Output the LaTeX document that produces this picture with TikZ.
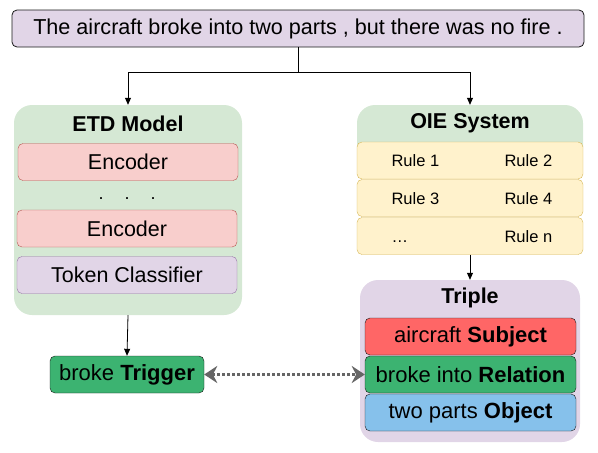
\documentclass[tikz,border=0pt]{standalone}
\usepackage{fontspec}
\setmainfont{Liberation Sans}
\usetikzlibrary{positioning,arrows.meta,calc}

\definecolor{purplefill}{HTML}{E1D5E7}
\definecolor{purpleline}{HTML}{9673A6}
\definecolor{greenfill}{HTML}{D5E8D4}
\definecolor{redfill}{HTML}{F8CECC}
\definecolor{redline}{HTML}{B85450}
\definecolor{yellowfill}{HTML}{FFF2CC}
\definecolor{yellowline}{HTML}{D6B656}
\definecolor{subjfill}{HTML}{FF6666}
\definecolor{relfill}{HTML}{3CB371}
\definecolor{objfill}{HTML}{86C1EB}
\definecolor{darkline}{HTML}{1A1A1A}
\definecolor{grayarrow}{HTML}{666666}

\tikzset{
  container/.style={fill=#1, rounded corners=18pt, inner sep=0pt},
  layer/.style={draw=redline, fill=redfill, rounded corners=5pt, minimum width=220pt, minimum height=37pt, inner sep=0pt, font=\fontsize{21.5}{23}\selectfont},
  rulebox/.style={draw=yellowline, fill=yellowfill, rounded corners=5pt, minimum width=226pt, minimum height=37pt, inner sep=0pt},
  rulelabel/.style={font=\fontsize{16.5}{18}\selectfont, anchor=base west},
  tripbox/.style={draw=darkline, fill=#1, rounded corners=5pt, minimum width=211pt, minimum height=37pt, inner sep=0pt, font=\fontsize{22}{24}\selectfont},
  title/.style={font=\fontsize{21.5}{23}\selectfont\bfseries},
  arr/.style={-{Triangle[length=7pt,width=6pt]}, thick},
}

\begin{document}
\begin{tikzpicture}[x=1pt, y=-1pt]
   \useasboundingbox (0,0) rectangle (598,453);

   % input sentence
   \node[draw=darkline, fill=purplefill, rounded corners=5pt, thick, minimum width=572pt, minimum height=37pt, inner sep=0pt,
         font=\fontsize{21.6}{23}\selectfont] (sent) at (298,28.5) {The aircraft broke into two parts , but there was no fire .};

   % ETD model
   \node[container=greenfill, minimum width=228pt, minimum height=210pt] (etd) at (128,210) {};
   \node[title] (etdtitle) at (128,124) {ETD Model};
   \node[layer] (enc1) at (128,162) {Encoder};
   \foreach \i in {-1,0,1}
       \node[font=\fontsize{18}{20}\selectfont, anchor=base] (dot\i) at (127+26*\i,199) {.};
   \node[layer] (enc2) at (127,228.5) {Encoder};
   \node[layer, draw=purpleline, fill=purplefill] (cls) at (127,275) {Token Classifier};

   % OIE system
   \node[container=greenfill, minimum width=226pt, minimum height=60pt] (oie) at (470,135) {};
   \node[title] (oietitle) at (470,123) {OIE System};
   \foreach \y/\a/\b/\id in {{160.5/Rule 1/Rule 2/r1}, {198/Rule 3/Rule 4/r2}, {236/\ldots/Rule n/r3}}{
       \node[rulebox] (\id) at (470,\y) {};
       \node[rulelabel] at (388,\y+6) {\a};
       \node[rulelabel] at (501,\y+6) {\b};
   }

   % triple
   \node[container=purplefill, minimum width=220pt, minimum height=162pt] (trip) at (470,361) {};
   \node[title] (triptitle) at (470,298) {Triple};
   \node[tripbox=subjfill] (subj) at (470.5,336.5) {aircraft \textbf{Subject}};
   \node[tripbox=relfill] (rel) at (470.5,374.5) {broke into \textbf{Relation}};
   \node[tripbox=objfill] (obj) at (470.5,412.5) {two parts \textbf{Object}};

   % trigger
   \node[tripbox=relfill, minimum width=154pt] (trig) at (127,374.5) {broke \textbf{Trigger}};

   % connectors
   \coordinate (split) at ($(sent.south)+(0,25)$);
   \draw[thick] (sent.south) -- (split);
   \draw[arr] (split) -| (etd.north);
   \draw[arr] (split) -| (oie.north);
   \draw[arr] (etd.south) -- (trig.north);
   \draw[arr] (r3.south) -- (trip.north);
   \draw[grayarrow, line width=3pt, dotted, {Stealth[length=13pt,width=17pt]}-{Stealth[length=13pt,width=17pt]}] (trig.east) -- (rel.west);

\end{tikzpicture}
\end{document}
